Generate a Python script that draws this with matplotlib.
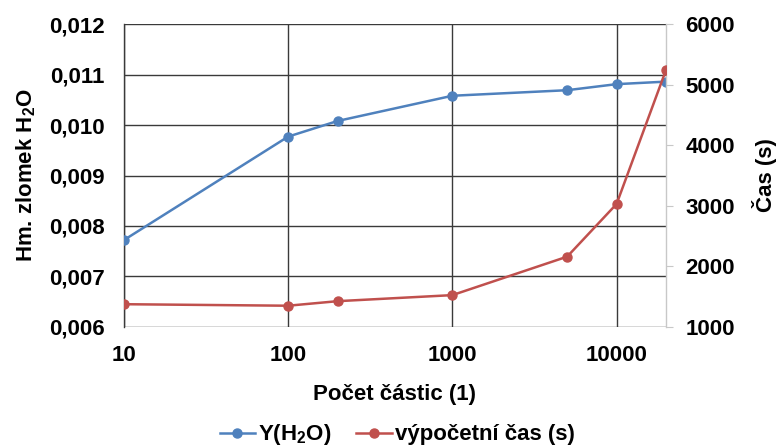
import matplotlib.pyplot as plt
from matplotlib.lines import Line2D

plt.rcParams["font.family"] = ["Liberation Sans", "DejaVu Sans"]
plt.rcParams["font.weight"] = "bold"
plt.rcParams["mathtext.fontset"] = "custom"
plt.rcParams["mathtext.rm"] = "Liberation Sans:bold"
plt.rcParams["mathtext.it"] = "Liberation Sans:bold"
plt.rcParams["mathtext.bf"] = "Liberation Sans:bold"

# data
particles = [10, 100, 200, 1000, 5000, 10000, 20000]
y_h2o = [0.00772, 0.00977, 0.01008, 0.01058, 0.01069, 0.01081, 0.01086]
calc_time = [1375, 1350, 1425, 1525, 2160, 3030, 5245]

left_ticks = [0.006, 0.007, 0.008, 0.009, 0.010, 0.011, 0.012]
left_labels = ["0,006", "0,007", "0,008", "0,009", "0,010", "0,011", "0,012"]
right_ticks = [1000, 2000, 3000, 4000, 5000, 6000]
x_ticks = [10, 100, 1000, 10000]

blue = "#4F81BD"
red = "#C0504D"
grid_col = "#3a3a3a"
fs = 16

fig = plt.figure(figsize=(7.79, 4.46), dpi=100)
ax = fig.add_axes([0.159, 0.267, 0.696, 0.679])
ax2 = ax.twinx()

ax.plot(particles, y_h2o, color=blue, lw=1.8, marker="o", ms=6.5, zorder=3)
ax2.plot(particles, calc_time, color=red, lw=1.8, marker="o", ms=6.5, zorder=3)

ax.set_xscale("log")
ax.set_xlim(10, 20000)
ax.set_ylim(0.006, 0.012)
ax2.set_ylim(1000, 6000)

ax.set_xticks(x_ticks)
ax.set_xticklabels([str(v) for v in x_ticks])
ax.xaxis.set_minor_locator(plt.NullLocator())
ax.set_yticks(left_ticks)
ax.set_yticklabels(left_labels)
ax2.set_yticks(right_ticks)

ax.grid(True, color=grid_col, lw=1.0)
ax.set_axisbelow(True)

for s in ["top", "right", "bottom"]:
    ax.spines[s].set_visible(False)
ax.spines["left"].set_color(grid_col)
ax.spines["left"].set_linewidth(1.0)
for s in ["top", "left", "bottom"]:
    ax2.spines[s].set_visible(False)
ax2.spines["right"].set_color("#c8c8c8")
ax2.spines["right"].set_linewidth(1.0)

ax.tick_params(axis="y", length=0, pad=14, labelsize=fs)
ax.tick_params(axis="x", length=0, pad=13, labelsize=fs)
ax2.tick_params(axis="y", length=5, color="#c8c8c8", pad=9, labelsize=fs)

ax.set_ylabel("Hm. zlomek H$_2$O", fontsize=fs, fontweight="bold", labelpad=8)
ax2.set_ylabel("Čas (s)", fontsize=fs, fontweight="bold", labelpad=12)
ax.set_xlabel("Počet částic (1)", fontsize=fs, fontweight="bold", labelpad=13)

handles = [
    Line2D([], [], color=blue, lw=1.8, marker="o", ms=6.5),
    Line2D([], [], color=red, lw=1.8, marker="o", ms=6.5),
]
fig.legend(handles, ["Y(H$_2$O)", "výpočetní čas (s)"], loc="center",
           bbox_to_anchor=(0.51, 0.025), ncol=2, frameon=False, fontsize=fs,
           handlelength=1.6, columnspacing=1.1, handletextpad=0.15)

fig.savefig("out.png", dpi=100)
